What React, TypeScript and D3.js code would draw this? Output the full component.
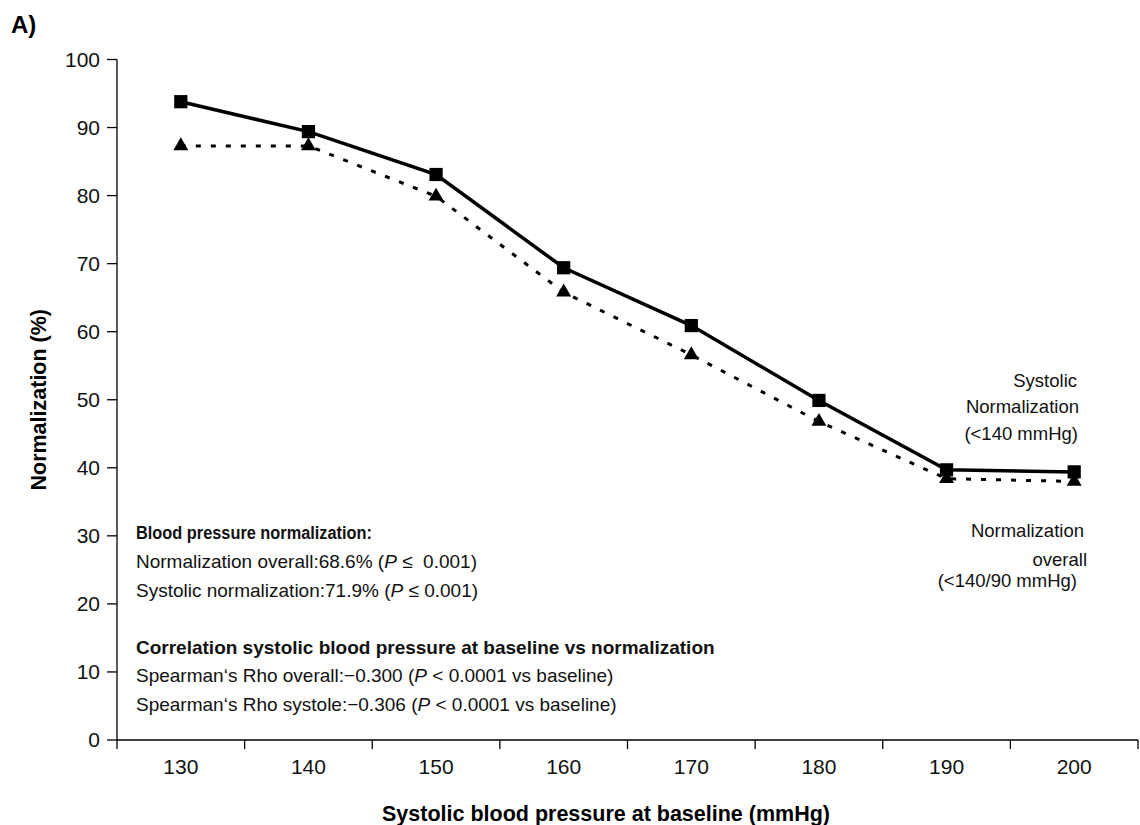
import React from "react";
import * as d3 from "d3";

const categories = ["130", "140", "150", "160", "170", "180", "190", "200"];
const systolicValues = [93.8, 89.4, 83.1, 69.4, 60.9, 49.9, 39.7, 39.4];
const overallValues = [87.3, 87.3, 79.9, 65.8, 56.6, 46.8, 38.4, 38.0];
const yTicks = [0, 10, 20, 30, 40, 50, 60, 70, 80, 90, 100];

const W = 1140;
const H = 825;
const FONT = "'Liberation Sans', Arial, sans-serif";

export default function App() {
  const x = d3.scaleBand<string>().domain(categories).range([117, 1138]).padding(0);
  const y = d3.scaleLinear().domain([0, 100]).range([740, 59.5]);
  const cx = (c: string) => (x(c) as number) + x.bandwidth() / 2;

  const line = d3
    .line<number>()
    .x((_, i) => cx(categories[i]))
    .y((d) => y(d));

  const sq = d3.symbol().type(d3.symbolSquare).size(175)() as string;
  const tri = d3.symbol().type(d3.symbolTriangle).size(97)() as string;

  const boundaries = [...categories.map((c) => x(c) as number), 1138];

  const annot = { fontFamily: FONT, fontSize: 19, fill: "#111" };
  const AX = 136;

  return (
    <svg
      width={W}
      height={H}
      style={{ position: "absolute", left: 0, top: 0, background: "#fff" }}
    >
      <text x={11} y={33} fontFamily={FONT} fontSize={24} fontWeight="bold">
        A)
      </text>

      {/* Y axis */}
      <line x1={117} x2={117} y1={y(100)} y2={y(0)} stroke="#000" strokeWidth={1.3} />
      {yTicks.map((t) => (
        <g key={t}>
          <line x1={107} x2={117} y1={y(t)} y2={y(t)} stroke="#000" strokeWidth={1.3} />
          <text
            x={100}
            y={y(t)}
            dy="0.35em"
            textAnchor="end"
            fontFamily={FONT}
            fontSize={21}
            fill="#111"
          >
            {t}
          </text>
        </g>
      ))}
      <text
        transform={`translate(46,${y(50)}) rotate(-90)`}
        textAnchor="middle"
        fontFamily={FONT}
        fontSize={21.5}
        fontWeight="bold"
      >
        Normalization (%)
      </text>

      {/* X axis */}
      <line x1={117} x2={1138} y1={y(0)} y2={y(0)} stroke="#000" strokeWidth={1.3} />
      {boundaries.map((b, i) => (
        <line key={i} x1={b} x2={b} y1={y(0)} y2={y(0) + 9} stroke="#000" strokeWidth={1.3} />
      ))}
      {categories.map((c) => (
        <text
          key={c}
          x={cx(c)}
          y={767}
          dy="0.35em"
          textAnchor="middle"
          fontFamily={FONT}
          fontSize={21}
          fill="#111"
        >
          {c}
        </text>
      ))}
      <text
        x={606}
        y={821}
        textAnchor="middle"
        fontFamily={FONT}
        fontSize={21.5}
        fontWeight="bold"
      >
        Systolic blood pressure at baseline (mmHg)
      </text>

      {/* Overall (dotted) */}
      <path
        d={line(overallValues) as string}
        fill="none"
        stroke="#000"
        strokeWidth={3}
        strokeDasharray="5,10"
      />
      {overallValues.map((v, i) => (
        <path key={i} d={tri} transform={`translate(${cx(categories[i])},${y(v)})`} fill="#000" />
      ))}

      {/* Systolic (solid) */}
      <path d={line(systolicValues) as string} fill="none" stroke="#000" strokeWidth={3.5} />
      {systolicValues.map((v, i) => (
        <path key={i} d={sq} transform={`translate(${cx(categories[i])},${y(v)})`} fill="#000" />
      ))}

      {/* Right labels */}
      <g fontFamily={FONT} fontSize={18.5} fill="#111" textAnchor="end">
        <text x={1077} y={387}>Systolic</text>
        <text x={1079} y={413}>Normalization</text>
        <text x={1078} y={440}>(&lt;140 mmHg)</text>
        <text x={1084} y={537}>Normalization</text>
        <text x={1087} y={566}>overall</text>
        <text x={1077} y={587}>(&lt;140/90 mmHg)</text>
      </g>

      {/* Annotations */}
      <text
        x={AX}
        y={539}
        {...annot}
        fontSize={17.5}
        fontWeight="bold"
        textLength={236}
        lengthAdjust="spacingAndGlyphs"
      >
        Blood pressure normalization:
      </text>
      <text x={AX} y={568} {...annot} style={{ whiteSpace: "pre" }}>
        Normalization overall:68.6% (<tspan fontStyle="italic">P</tspan>
        {" \u2264  0.001)"}
      </text>
      <text x={AX} y={597} {...annot} style={{ whiteSpace: "pre" }}>
        Systolic normalization:71.9% (<tspan fontStyle="italic">P</tspan>
        {" \u2264 0.001)"}
      </text>
      <text x={AX} y={654} {...annot} fontWeight="bold">
        Correlation systolic blood pressure at baseline vs normalization
      </text>
      <text x={AX} y={682} {...annot} style={{ whiteSpace: "pre" }}>
        {"Spearman\u2018s Rho overall:\u22120.300 ("}
        <tspan fontStyle="italic">P</tspan>
        {" < 0.0001 vs baseline)"}
      </text>
      <text x={AX} y={711} {...annot} style={{ whiteSpace: "pre" }}>
        {"Spearman\u2018s Rho systole:\u22120.306 ("}
        <tspan fontStyle="italic">P</tspan>
        {" < 0.0001 vs baseline)"}
      </text>
    </svg>
  );
}
